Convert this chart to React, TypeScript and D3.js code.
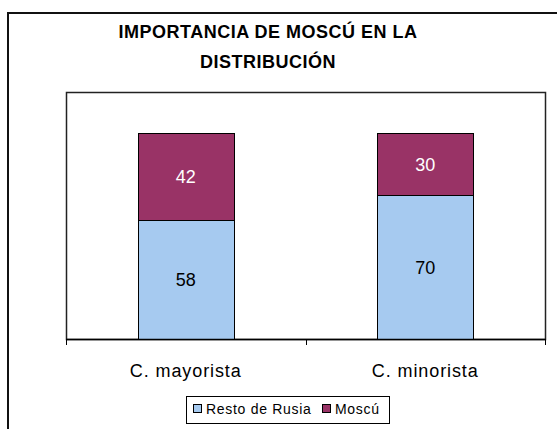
import { useEffect, useRef } from 'react';
import * as d3 from 'd3';

const categories = ['C. mayorista', 'C. minorista'];
const restoDeRusia = [58, 70];
const moscu = [42, 30];
const seriesNames = ['Resto de Rusia', 'Moscú'];
const titleLines = ['IMPORTANCIA DE MOSCÚ EN LA', 'DISTRIBUCIÓN'];

const colors = ['#a6caf0', '#993366'];
const labelColors = ['#000000', '#ffffff'];
const font = 'Liberation Sans, Arial, sans-serif';

export default function App() {
  const svgRef = useRef<SVGSVGElement>(null);
  const width = 557;
  const height = 429;

  useEffect(() => {
    if (!svgRef.current) return;
    const svg = d3.select(svgRef.current);
    svg.selectAll('*').remove();

    const plot = { left: 66, right: 545, top: 92, bottom: 339 };

    // outer chart frame
    svg
      .append('rect')
      .attr('x', 8)
      .attr('y', 13)
      .attr('width', width)
      .attr('height', height)
      .attr('fill', '#fff')
      .attr('stroke', '#111')
      .attr('stroke-width', 2);

    svg
      .append('text')
      .attr('text-anchor', 'middle')
      .attr('font-family', font)
      .attr('font-weight', 'bold')
      .attr('font-size', 18)
      .attr('letter-spacing', 0.5)
      .attr('fill', '#000')
      .selectAll('tspan')
      .data(titleLines)
      .join('tspan')
      .attr('x', 268)
      .attr('y', (_, i) => 38 + i * 30)
      .text((d) => d);

    // plot area frame
    svg
      .append('rect')
      .attr('x', plot.left + 0.5)
      .attr('y', plot.top + 0.5)
      .attr('width', plot.right - plot.left)
      .attr('height', plot.bottom - plot.top)
      .attr('fill', '#fff')
      .attr('stroke', '#222')
      .attr('stroke-width', 1.5);

    const x = d3
      .scaleBand<string>()
      .domain(categories)
      .range([plot.left, plot.right])
      .paddingInner(0.6)
      .paddingOuter(0.3);

    const y = d3.scaleLinear().domain([0, 120]).range([plot.bottom, plot.top]);

    const table = categories.map((c, i) => ({
      category: c,
      [seriesNames[0]]: restoDeRusia[i],
      [seriesNames[1]]: moscu[i],
    }));
    const stacked = d3.stack<any>().keys(seriesNames)(table);

    const layers = svg
      .append('g')
      .selectAll('g')
      .data(stacked)
      .join('g')
      .attr('fill', (_, i) => colors[i]);

    layers
      .selectAll('rect')
      .data((d) => d)
      .join('rect')
      .attr('x', (d) => Math.round(x(d.data.category)!) + 0.5)
      .attr('y', (d) => Math.round(y(d[1])) + 0.5)
      .attr('width', Math.round(x.bandwidth()))
      .attr('height', (d) => Math.round(y(d[0])) - Math.round(y(d[1])))
      .attr('stroke', '#000')
      .attr('stroke-width', 1);

    layers
      .selectAll('text')
      .data((d, i) => d.map((v) => ({ v, i })))
      .join('text')
      .attr('x', (d) => x(d.v.data.category)! + x.bandwidth() / 2)
      .attr('y', (d) => (y(d.v[0]) + y(d.v[1])) / 2 + 7)
      .attr('text-anchor', 'middle')
      .attr('font-family', font)
      .attr('font-size', 18)
      .attr('fill', (d) => labelColors[d.i])
      .text((d) => d.v[1] - d.v[0]);

    // category axis
    const step = x.step();
    const centers = categories.map((c) => x(c)! + x.bandwidth() / 2);
    const boundaries = [centers[0] - step / 2, ...centers.map((c) => c + step / 2)];

    const axis = svg.append('g');
    axis
      .append('line')
      .attr('x1', plot.left)
      .attr('x2', plot.right + 1)
      .attr('y1', plot.bottom + 0.5)
      .attr('y2', plot.bottom + 0.5)
      .attr('stroke', '#000')
      .attr('stroke-width', 1.5);
    axis
      .selectAll('line.tick')
      .data(boundaries)
      .join('line')
      .attr('class', 'tick')
      .attr('x1', (d) => Math.round(d) + 0.5)
      .attr('x2', (d) => Math.round(d) + 0.5)
      .attr('y1', plot.bottom)
      .attr('y2', plot.bottom + 6)
      .attr('stroke', '#000');
    axis
      .selectAll('text')
      .data(categories)
      .join('text')
      .attr('x', (d) => x(d)! + x.bandwidth() / 2)
      .attr('y', 377)
      .attr('text-anchor', 'middle')
      .attr('font-family', font)
      .attr('font-size', 18)
      .attr('letter-spacing', 0.9)
      .attr('fill', '#000')
      .text((d) => d);

    // legend
    const legend = svg.append('g');
    legend
      .append('rect')
      .attr('x', 186.5)
      .attr('y', 396.5)
      .attr('width', 203)
      .attr('height', 27)
      .attr('fill', '#fff')
      .attr('stroke', '#000')
      .attr('stroke-width', 1);
    const itemX = [193, 322];
    const items = legend
      .selectAll('g')
      .data(seriesNames)
      .join('g')
      .attr('transform', (_, i) => `translate(${itemX[i]},404)`);
    items
      .append('rect')
      .attr('x', 0.5)
      .attr('y', 0.5)
      .attr('width', 8)
      .attr('height', 8)
      .attr('fill', (_, i) => colors[i])
      .attr('stroke', '#000');
    items
      .append('text')
      .attr('x', 13)
      .attr('y', 9.5)
      .attr('font-family', font)
      .attr('font-size', 14)
      .attr('letter-spacing', 0.7)
      .attr('fill', '#000')
      .text((d) => d);
  }, []);

  return (
    <div style={{ position: 'fixed', left: 0, top: 0 }}>
      <svg ref={svgRef} width={width} height={height} style={{ display: 'block' }} />
    </div>
  );
}
